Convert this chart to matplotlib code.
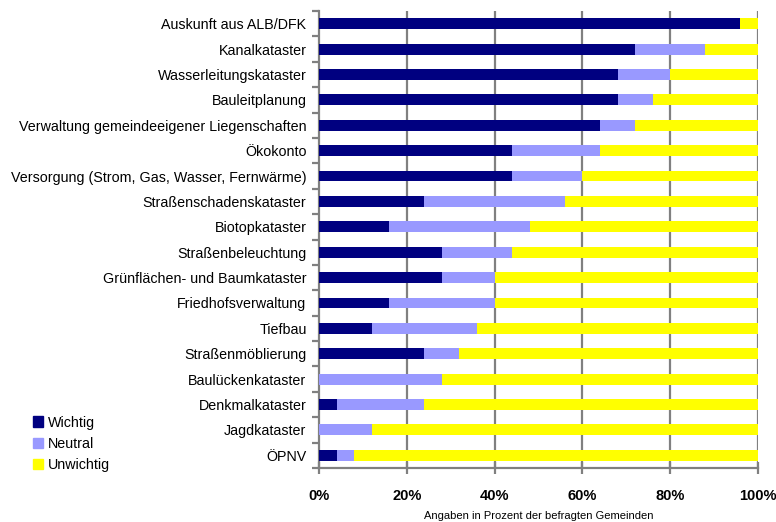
import matplotlib
matplotlib.use("Agg")
import matplotlib.pyplot as plt
import numpy as np
from matplotlib.patches import Patch

categories = [
    "Auskunft aus ALB/DFK",
    "Kanalkataster",
    "Wasserleitungskataster",
    "Bauleitplanung",
    "Verwaltung gemeindeeigener Liegenschaften",
    "Ökokonto",
    "Versorgung (Strom, Gas, Wasser, Fernwärme)",
    "Straßenschadenskataster",
    "Biotopkataster",
    "Straßenbeleuchtung",
    "Grünflächen- und Baumkataster",
    "Friedhofsverwaltung",
    "Tiefbau",
    "Straßenmöblierung",
    "Baulückenkataster",
    "Denkmalkataster",
    "Jagdkataster",
    "ÖPNV",
]
wichtig = [96, 72, 68, 68, 64, 44, 44, 24, 16, 28, 28, 16, 12, 24, 0, 4, 0, 4]
neutral = [0, 16, 12, 8, 8, 20, 16, 32, 32, 16, 12, 24, 24, 8, 28, 20, 12, 4]
unwichtig = [4, 12, 20, 24, 28, 36, 40, 44, 52, 56, 60, 60, 64, 68, 72, 76, 88, 92]
x_ticks = [0, 20, 40, 60, 80, 100]
x_tick_labels = ["0%", "20%", "40%", "60%", "80%", "100%"]

plt.rcParams["font.family"] = ["Liberation Sans", "DejaVu Sans"]

fig = plt.figure(figsize=(7.76, 5.22), dpi=100)
ax = fig.add_axes([319 / 776, 1 - 468 / 522, (758 - 319) / 776, (468 - 11) / 522])

n = len(categories)
y = np.arange(n)
h = 0.43
w = np.array(wichtig)
nu = np.array(neutral)
un = np.array(unwichtig)

c_w, c_n, c_u = "#000080", "#9999FF", "#FFFF00"
ax.barh(y, w, height=h, color=c_w, zorder=3)
ax.barh(y, nu, left=w, height=h, color=c_n, zorder=3)
ax.barh(y, un, left=w + nu, height=h, color=c_u, zorder=3)

ax.set_ylim(n - 0.5, -0.5)
ax.set_xlim(0, 100)

grid_c = "#808080"
for xv in x_ticks[1:]:
    ax.axvline(xv, color=grid_c, lw=1.6, zorder=1)

for s in ["top", "right"]:
    ax.spines[s].set_visible(False)
for s in ["left", "bottom"]:
    ax.spines[s].set_color(grid_c)
    ax.spines[s].set_linewidth(1.6)

ax.set_xticks(x_ticks)
ax.set_xticklabels(x_tick_labels, fontsize=10.5, fontweight="bold")
ax.tick_params(axis="x", direction="inout", length=8, width=1.6, color=grid_c, pad=11)

ax.set_yticks(y)
ax.set_yticklabels(categories, fontsize=10.3)
ax.tick_params(axis="y", length=0, pad=9)
ax.set_yticks(np.arange(-0.5, n, 1.0), minor=True)
ax.tick_params(axis="y", which="minor", direction="out", length=5, width=1.6, color=grid_c)

ax.set_xlabel("Angaben in Prozent der befragten Gemeinden", fontsize=8, labelpad=6)

handles = [Patch(color=c_w, label="Wichtig"),
           Patch(color=c_n, label="Neutral"),
           Patch(color=c_u, label="Unwichtig")]
fig.legend(handles=handles, loc="upper left", bbox_to_anchor=(27 / 776, 1 - 410 / 522),
           frameon=False, fontsize=10.3, handlelength=0.75, handleheight=0.75,
           handletextpad=0.3, labelspacing=0.5, borderaxespad=0)

fig.savefig("out.png", dpi=100)
